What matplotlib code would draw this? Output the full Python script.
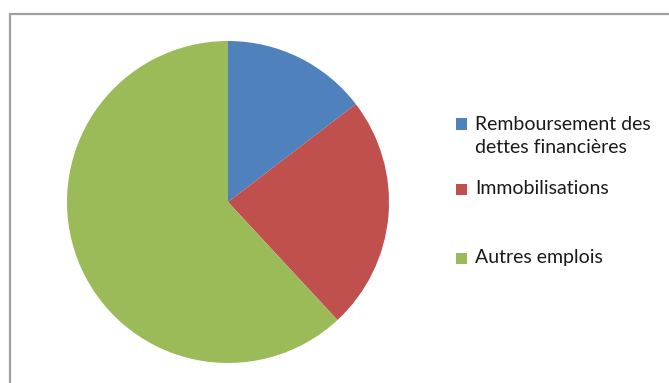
import matplotlib.pyplot as plt
from matplotlib.patches import Rectangle

labels = ["Remboursement des\ndettes financières", "Immobilisations", "Autres emplois"]
values = [14.6, 23.5, 61.9]
colors = ["#4F81BD", "#C0504D", "#9BBB59"]

W, H = 669, 383
fig = plt.figure(figsize=(W / 100, H / 100), dpi=100)
plt.rcParams['font.family'] = ['Lato', 'DejaVu Sans']

# chart border (cut off at right and bottom)
fig.patches.append(Rectangle((9.5 / W, -0.1), 1.0, (H - 13.5) / H + 0.1,
                             transform=fig.transFigure, fill=False,
                             edgecolor="#a0a0a0", linewidth=1.6))

ax = fig.add_axes([67 / W, 20 / H, 322 / W, 322 / H])
ax.pie(values, colors=colors, startangle=90, counterclock=False,
       wedgeprops=dict(linewidth=0))
ax.set_xlim(-1, 1)
ax.set_ylim(-1, 1)
ax.set_aspect("equal")
ax.axis("off")

# legend
ys = [136, 189, 258]
for lab, c, y in zip(labels, colors, ys):
    if "\n" in lab:
        sq_y = y - 12
    else:
        sq_y = y
    fig.patches.append(Rectangle((456 / W, (H - sq_y - 5.5) / H), 11 / W, 11 / H,
                                 transform=fig.transFigure, facecolor=c, edgecolor="none"))
    fig.text(475 / W, (H - y) / H, lab, fontsize=14, va="center", ha="left",
             color="#1a1a1a", linespacing=1.48)

fig.savefig("out.png", dpi=100)
